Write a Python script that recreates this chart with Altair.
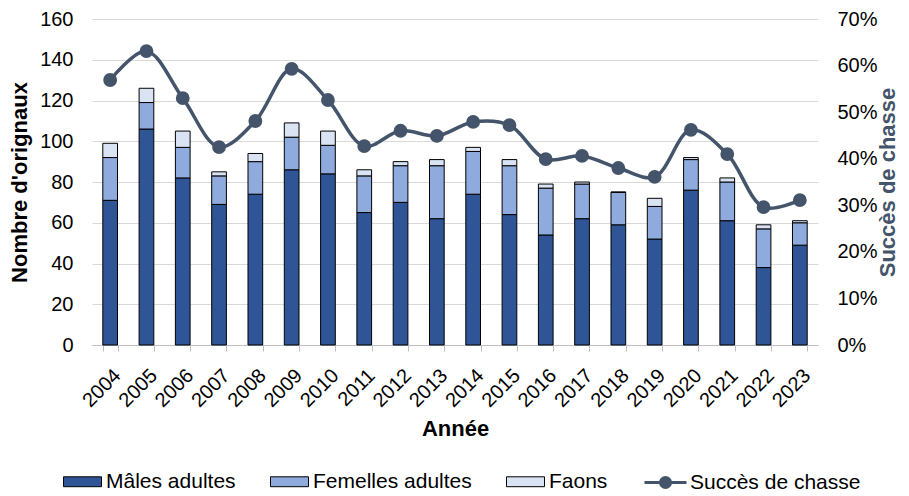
import altair as alt
import pandas as pd

years = [str(y) for y in range(2004, 2024)]
males = [71, 106, 82, 69, 74, 86, 84, 65, 70, 62, 74, 64, 54, 62, 59, 52, 76, 61, 38, 49]
femelles = [21, 13, 15, 14, 16, 16, 14, 18, 18, 26, 21, 24, 23, 17, 16, 16, 15, 19, 19, 11]
faons = [7, 7, 8, 2, 4, 7, 7, 3, 2, 3, 2, 3, 2, 1, 0, 4, 1, 2, 2, 1]
succes = [0.569, 0.631, 0.530, 0.425, 0.481, 0.593, 0.526, 0.427, 0.460, 0.449,
          0.479, 0.472, 0.399, 0.406, 0.380, 0.361, 0.462, 0.410, 0.296, 0.311]

categories = ["Mâles adultes", "Femelles adultes", "Faons"]
cat_colors = ["#2F5597", "#8FAADC", "#DAE3F3"]
line_color = "#44546A"

rows = []
for i, y in enumerate(years):
    for k, (c, v) in enumerate(zip(categories, [males[i], femelles[i], faons[i]])):
        rows.append({"Année": y, "cat": c, "val": v, "ord": k})
bars_df = pd.DataFrame(rows)
line_df = pd.DataFrame({"Année": years, "succes": succes, "series": ["Succès de chasse"] * len(years)})

FONT = "Liberation Sans"

x_enc = alt.X("Année:N", title="Année",
              scale=alt.Scale(paddingInner=0.595, paddingOuter=0.2975),
              axis=alt.Axis(labelAngle=315, labelFontSize=20, labelColor="#000000",
                            titleFontSize=22, titleFontWeight="bold", titleColor="#000000",
                            domainColor="#BFBFBF", tickColor="#BFBFBF", tickBand="extent",
                            tickSize=6, labelPadding=14, titlePadding=8))

bars = alt.Chart(bars_df).mark_bar(stroke="#000000", strokeWidth=1).encode(
    x=x_enc,
    y=alt.Y("sum(val):Q", title="Nombre d'orignaux",
            scale=alt.Scale(domain=[0, 160]),
            axis=alt.Axis(values=list(range(0, 161, 20)), labelFontSize=20, labelColor="#000000",
                          titleFontSize=22, titleFontWeight="bold", titleColor="#000000",
                          domain=False, ticks=False, gridColor="#D9D9D9", labelPadding=19,
                          titlePadding=8)),
    color=alt.Color("cat:N", scale=alt.Scale(domain=categories, range=cat_colors),
                    legend=alt.Legend(title=None, orient="none", legendX=-29, legendY=443,
                                      direction="horizontal",
                                      symbolType="M-1,-0.26H1V0.26H-1Z", symbolSize=1444,
                                      symbolStrokeColor="#000000", symbolStrokeWidth=1,
                                      labelFontSize=21, labelColor="#000000",
                                      columnPadding=32, labelOffset=4, labelLimit=300)),
    order=alt.Order("ord:Q", sort="ascending"),
)

line = alt.Chart(line_df).mark_line(interpolate="catmull-rom", strokeWidth=3.5,
                                    point=alt.OverlayMarkDef(size=140, filled=True, color=line_color)).encode(
    x=alt.X("Année:N"),
    y=alt.Y("succes:Q", title="Succès de chasse",
            scale=alt.Scale(domain=[0, 0.7]),
            axis=alt.Axis(orient="right", format=".0%", values=[i / 10 for i in range(8)],
                          labelFontSize=20, labelColor="#000000", grid=False,
                          domain=False, ticks=False, labelPadding=19,
                          titleFontSize=22, titleFontWeight="bold", titleColor=line_color,
                          titleAngle=270, titleBaseline="top", titlePadding=0)),
    stroke=alt.Stroke("series:N", scale=alt.Scale(domain=["Succès de chasse"], range=[line_color]),
                      legend=alt.Legend(title=None, orient="none", legendX=551, legendY=441,
                                        symbolType="M-1,0H1M0.24,0A0.24,0.24 0 1,1 -0.24,0A0.24,0.24 0 1,1 0.24,0Z",
                                        symbolSize=1764, symbolStrokeWidth=3,
                                        symbolFillColor=line_color, symbolStrokeColor=line_color,
                                        labelFontSize=21, labelColor="#000000", labelOffset=2,
                                        labelLimit=300)),
)

chart = alt.layer(bars, line).resolve_scale(y="independent").properties(
    width=726, height=326,
    autosize=alt.AutoSizeParams(type="none"),
    padding={"left": 84, "top": 11, "right": 83, "bottom": 152},
).configure(font=FONT).configure_view(stroke=None)

chart.save("out.html", embed_options={"renderer": "svg", "actions": False})
